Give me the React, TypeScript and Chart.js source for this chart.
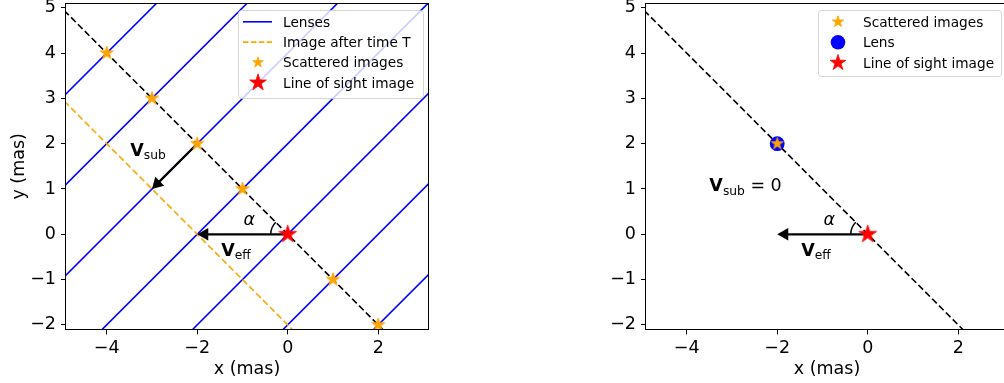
import React, { useEffect, useRef } from "react";
import { Chart, registerables } from "chart.js";
Chart.register(...registerables);

const FONT = '"DejaVu Sans", "Liberation Sans", sans-serif';

// ---- axes ----
const xLimits = [-4.9, 3.1];
const yLimits = [-2.1, 5.1];
const xTickValues = [-4, -2, 0, 2];
const yTickValues = [-2, -1, 0, 1, 2, 3, 4, 5];
const xAxisLabel = "x (mas)";
const yAxisLabel = "y (mas)";

// ---- left panel data ----
const lensIntercepts = [8, 6, 4, 2, 0, -2, -4];
const lensLineX = [-6, 4];
const sightLineX = [-6, 3];
const sightLineY = [6, -3];
const afterTLineX = [-6, 3];
const afterTLineY = [4, -5];
const scatteredX = [-4, -3, -2, -1, 1, 2];
const scatteredY = [4, 3, 2, 1, -1, -2];
const losImageX = [0];
const losImageY = [0];
const vSubArrow = [[-2, 2], [-3, 1]];
const vEffArrow = [[0, 0], [-2, 0]];

// ---- right panel data ----
const rightScatteredX = [-2];
const rightScatteredY = [2];
const lensX = [-2];
const lensY = [2];

// ---- legends / labels ----
const leftLegendLabels = ["Lenses", "Image after time T", "Scattered images", "Line of sight image"];
const rightLegendLabels = ["Scattered images", "Lens", "Line of sight image"];
const vSubLabelAt = [-3.48, 1.73];
const vEffLabelAt = [-1.47, -0.47];
const alphaLabelAt = [-0.98, 0.21];
const vSubZeroLabelAt = [-3.5, 0.95];
const angleArcRadius = 0.375;

const ORANGE = "#FFA500";
const BLUE = "#0000FF";
const RED = "#FF0000";

function starPath(ctx: CanvasRenderingContext2D, cx: number, cy: number, R: number) {
  const r = R * 0.381966;
  ctx.beginPath();
  for (let i = 0; i < 10; i++) {
    const a = -Math.PI / 2 + (i * Math.PI) / 5;
    const rr = i % 2 === 0 ? R : r;
    const px = cx + rr * Math.cos(a);
    const py = cy + rr * Math.sin(a);
    if (i === 0) ctx.moveTo(px, py);
    else ctx.lineTo(px, py);
  }
  ctx.closePath();
}

function drawStar(ctx: CanvasRenderingContext2D, cx: number, cy: number, R: number, color: string) {
  ctx.save();
  starPath(ctx, cx, cy, R);
  ctx.fillStyle = color;
  ctx.fill();
  ctx.strokeStyle = color;
  ctx.lineWidth = 0.8;
  ctx.lineJoin = "miter";
  ctx.stroke();
  ctx.restore();
}

function makeStarCanvas(R: number, color: string) {
  const size = Math.ceil(R * 2 + 4);
  const c = document.createElement("canvas");
  c.width = size;
  c.height = size;
  const ctx = c.getContext("2d")!;
  drawStar(ctx, size / 2, size / 2, R, color);
  return c;
}

function drawArrow(ctx: CanvasRenderingContext2D, x0: number, y0: number, x1: number, y1: number) {
  const dx = x1 - x0;
  const dy = y1 - y0;
  const L = Math.hypot(dx, dy);
  const ux = dx / L;
  const uy = dy / L;
  const hl = 11;
  const hw = 6.3;
  const bx = x1 - ux * hl;
  const by = y1 - uy * hl;
  ctx.save();
  ctx.strokeStyle = "#000";
  ctx.lineWidth = 2.3;
  ctx.beginPath();
  ctx.moveTo(x0, y0);
  ctx.lineTo(bx + ux, by + uy);
  ctx.stroke();
  ctx.fillStyle = "#000";
  ctx.beginPath();
  ctx.moveTo(x1, y1);
  ctx.lineTo(bx - uy * hw, by + ux * hw);
  ctx.lineTo(bx + uy * hw, by - ux * hw);
  ctx.closePath();
  ctx.fill();
  ctx.restore();
}

type Run = { t: string; f: string; dy?: number; gap?: number };

function drawRuns(ctx: CanvasRenderingContext2D, x: number, y: number, runs: Run[]) {
  ctx.save();
  ctx.fillStyle = "#000";
  ctx.textAlign = "left";
  ctx.textBaseline = "alphabetic";
  let cx = x;
  for (const r of runs) {
    cx += r.gap || 0;
    ctx.font = r.f;
    ctx.fillText(r.t, cx, y + (r.dy || 0));
    cx += ctx.measureText(r.t).width;
  }
  ctx.restore();
}

const MAIN = `17.5px ${FONT}`;
const BOLD = `bold 17.5px ${FONT}`;
const SUB = `12.25px ${FONT}`;
const ITAL = `italic 17.5px ${FONT}`;

const vSubRuns: Run[] = [{ t: "V", f: BOLD }, { t: "sub", f: SUB, dy: 3.3 }];
const vEffRuns: Run[] = [{ t: "V", f: BOLD }, { t: "eff", f: SUB, dy: 3.3 }];
const alphaRuns: Run[] = [{ t: "α", f: ITAL }];
const vSubZeroRuns: Run[] = [
  { t: "V", f: BOLD },
  { t: "sub", f: SUB, dy: 3.3 },
  { t: " = 0", f: MAIN },
];

type LegendItem = { label: string; kind: string; color: string; size: number };

type PanelCfg = {
  arrows: number[][][];
  labels: { at: number[]; runs: Run[] }[];
  legendBox: number[];
  legendItems: LegendItem[];
  legendBaseline0: number;
  legendStep: number;
};

function makePlugin(cfg: PanelCfg) {
  return {
    id: "annot",
    beforeDatasetDraw(chart: any, args: any) {
      const ds = chart.data.datasets[args.index];
      if (!ds.arrowsBefore) return;
      const ctx = chart.ctx;
      const xs = chart.scales.x;
      const ys = chart.scales.y;
      const a = chart.chartArea;
      ctx.save();
      ctx.beginPath();
      ctx.rect(a.left, a.top, a.right - a.left, a.bottom - a.top);
      ctx.clip();
      for (const [from, to] of cfg.arrows) {
        drawArrow(
          ctx,
          xs.getPixelForValue(from[0]),
          ys.getPixelForValue(from[1]),
          xs.getPixelForValue(to[0]),
          ys.getPixelForValue(to[1])
        );
      }
      const cx = xs.getPixelForValue(losImageX[0]);
      const cy = ys.getPixelForValue(losImageY[0]);
      const r = xs.getPixelForValue(angleArcRadius) - xs.getPixelForValue(0);
      ctx.strokeStyle = "#000";
      ctx.lineWidth = 1.5;
      ctx.beginPath();
      ctx.arc(cx, cy, r, Math.PI, Math.PI * 1.25);
      ctx.stroke();
      ctx.restore();
    },
    afterDraw(chart: any) {
      const ctx: CanvasRenderingContext2D = chart.ctx;
      const xs = chart.scales.x;
      const ys = chart.scales.y;
      const a = chart.chartArea;
      for (const l of cfg.labels) {
        drawRuns(ctx, xs.getPixelForValue(l.at[0]), ys.getPixelForValue(l.at[1]), l.runs);
      }
      ctx.save();
      ctx.strokeStyle = "#000";
      ctx.lineWidth = 1;
      const L = Math.floor(a.left) - 0.5;
      const T = Math.floor(a.top) + 0.5;
      const R = Math.floor(a.right) + 0.5;
      const B = Math.floor(a.bottom) + 0.5;
      ctx.strokeRect(L, T, R - L, B - T);
      ctx.restore();
      const [bx, by, bw, bh] = cfg.legendBox;
      ctx.save();
      ctx.beginPath();
      (ctx as any).roundRect(bx + 0.5, by + 0.5, bw, bh, 3);
      ctx.fillStyle = "rgba(255,255,255,0.8)";
      ctx.fill();
      ctx.strokeStyle = "rgba(204,204,204,0.8)";
      ctx.lineWidth = 1;
      ctx.stroke();
      cfg.legendItems.forEach((it, i) => {
        const base = cfg.legendBaseline0 + i * cfg.legendStep;
        const cy = base - 5;
        const hx0 = bx + 5;
        const hx1 = bx + 34;
        const mx = bx + 20;
        if (it.kind === "line" || it.kind === "dashed") {
          ctx.save();
          ctx.strokeStyle = it.color;
          ctx.lineWidth = 1.6;
          if (it.kind === "dashed") ctx.setLineDash([5.5, 2.4]);
          ctx.beginPath();
          ctx.moveTo(hx0, cy);
          ctx.lineTo(hx1, cy);
          ctx.stroke();
          ctx.restore();
        } else if (it.kind === "star") {
          drawStar(ctx, mx, cy, it.size, it.color);
        } else if (it.kind === "circle") {
          ctx.save();
          ctx.fillStyle = it.color;
          ctx.beginPath();
          ctx.arc(mx, cy, it.size, 0, Math.PI * 2);
          ctx.fill();
          ctx.restore();
        }
        ctx.fillStyle = "#000";
        ctx.font = `13.7px ${FONT}`;
        ctx.textAlign = "left";
        ctx.textBaseline = "alphabetic";
        ctx.fillText(it.label, bx + 45, base);
      });
      ctx.restore();
    },
  };
}

const fmt = (v: any) => {
  const n = Number(v);
  return n < 0 ? "\u2212" + String(Math.abs(n)) : String(n);
};

function makeScales(showYTitle: boolean) {
  const tickFont = { family: FONT, size: 17.5 };
  const grid = { drawOnChartArea: false, drawTicks: true, tickLength: 5, tickColor: "#000", lineWidth: 1 };
  return {
    x: {
      type: "linear",
      min: xLimits[0],
      max: xLimits[1],
      afterBuildTicks: (s: any) => {
        s.ticks = xTickValues.map((v) => ({ value: v }));
      },
      afterFit: (s: any) => {
        s.height = 53.6;
        s.paddingLeft = 0;
        s.paddingRight = 0;
        s.paddingTop = 0;
        s.paddingBottom = 0;
      },
      ticks: { color: "#000", font: tickFont, padding: 4, maxRotation: 0, autoSkip: false, callback: fmt },
      grid,
      border: { display: false },
      title: {
        display: true,
        text: xAxisLabel,
        color: "#000",
        font: { family: FONT, size: 17.5 },
        padding: { top: 0, bottom: 3.5 },
      },
    },
    y: {
      type: "linear",
      min: yLimits[0],
      max: yLimits[1],
      afterBuildTicks: (s: any) => {
        s.ticks = yTickValues.map((v) => ({ value: v }));
      },
      afterFit: (s: any) => {
        s.width = 66;
        s.paddingLeft = 0;
        s.paddingRight = 0;
        s.paddingTop = 0;
        s.paddingBottom = 0;
      },
      ticks: { color: "#000", font: tickFont, padding: 5, autoSkip: false, callback: fmt },
      grid,
      border: { display: false },
      title: {
        display: showYTitle,
        text: yAxisLabel,
        color: "#000",
        font: { family: FONT, size: 17.5 },
        padding: { top: 9, bottom: 0 },
      },
    },
  };
}

function baseOptions(showYTitle: boolean) {
  return {
    responsive: false,
    maintainAspectRatio: false,
    devicePixelRatio: 1,
    animation: false,
    events: [],
    layout: { autoPadding: false, padding: { left: 0, right: 12, top: 3.3, bottom: 0 } },
    plugins: { legend: { display: false }, tooltip: { enabled: false }, title: { display: false } },
    scales: makeScales(showYTitle),
  };
}

function pts(xs: number[], ys: number[]) {
  return xs.map((x, i) => ({ x, y: ys[i] }));
}

function leftConfig(): any {
  const orangeStar = makeStarCanvas(7, ORANGE);
  const redStar = makeStarCanvas(9.3, RED);
  const lineBase = { showLine: true, pointRadius: 0, borderWidth: 1.6, clip: 0, order: 3, fill: false };
  return {
    type: "scatter",
    data: {
      datasets: [
        {
          label: leftLegendLabels[3],
          data: pts(losImageX, losImageY),
          pointStyle: redStar,
          pointRadius: 9,
          clip: 0,
          order: 0,
        },
        {
          label: leftLegendLabels[2],
          data: pts(scatteredX, scatteredY),
          pointStyle: orangeStar,
          pointRadius: 7,
          clip: 0,
          order: 1,
          arrowsBefore: true,
        },
        {
          ...lineBase,
          label: "sight line",
          data: pts(sightLineX, sightLineY),
          borderColor: "#000",
          borderDash: [6.5, 3.2],
        },
        {
          ...lineBase,
          label: leftLegendLabels[1],
          data: pts(afterTLineX, afterTLineY),
          borderColor: ORANGE,
          borderDash: [6.5, 3.2],
        },
        ...lensIntercepts.map((c) => ({
          ...lineBase,
          label: leftLegendLabels[0],
          data: lensLineX.map((x) => ({ x, y: x + c })),
          borderColor: BLUE,
        })),
      ],
    },
    options: baseOptions(true),
    plugins: [
      makePlugin({
        arrows: [vSubArrow, vEffArrow],
        labels: [
          { at: vSubLabelAt, runs: vSubRuns },
          { at: vEffLabelAt, runs: vEffRuns },
          { at: alphaLabelAt, runs: alphaRuns },
        ],
        legendBox: [238, 10, 185, 88],
        legendItems: [
          { label: leftLegendLabels[0], kind: "line", color: BLUE, size: 0 },
          { label: leftLegendLabels[1], kind: "dashed", color: ORANGE, size: 0 },
          { label: leftLegendLabels[2], kind: "star", color: ORANGE, size: 5.6 },
          { label: leftLegendLabels[3], kind: "star", color: RED, size: 8.8 },
        ],
        legendBaseline0: 26.8,
        legendStep: 20.3,
      }),
    ],
  };
}

function rightConfig(): any {
  const orangeStar = makeStarCanvas(6.3, ORANGE);
  const redStar = makeStarCanvas(9.3, RED);
  return {
    type: "scatter",
    data: {
      datasets: [
        {
          label: rightLegendLabels[2],
          data: pts(losImageX, losImageY),
          pointStyle: redStar,
          pointRadius: 9,
          clip: 0,
          order: 0,
        },
        {
          label: rightLegendLabels[0],
          data: pts(rightScatteredX, rightScatteredY),
          pointStyle: orangeStar,
          pointRadius: 7,
          clip: 0,
          order: 1,
        },
        {
          label: rightLegendLabels[1],
          data: pts(lensX, lensY),
          pointStyle: "circle",
          pointRadius: 7.4,
          backgroundColor: BLUE,
          borderColor: BLUE,
          borderWidth: 0,
          clip: 0,
          order: 2,
          arrowsBefore: true,
        },
        {
          label: "sight line",
          data: pts(sightLineX, sightLineY),
          showLine: true,
          pointRadius: 0,
          borderWidth: 1.6,
          borderColor: "#000",
          borderDash: [6.5, 3.2],
          clip: 0,
          order: 3,
        },
      ],
    },
    options: baseOptions(false),
    plugins: [
      makePlugin({
        arrows: [vEffArrow],
        labels: [
          { at: vSubZeroLabelAt, runs: vSubZeroRuns },
          { at: vEffLabelAt, runs: vEffRuns },
          { at: alphaLabelAt, runs: alphaRuns },
        ],
        legendBox: [238, 10, 183, 66],
        legendItems: [
          { label: rightLegendLabels[0], kind: "star", color: ORANGE, size: 6 },
          { label: rightLegendLabels[1], kind: "circle", color: BLUE, size: 7.3 },
          { label: rightLegendLabels[2], kind: "star", color: RED, size: 8.3 },
        ],
        legendBaseline0: 26.8,
        legendStep: 20.5,
      }),
    ],
  };
}

export default function App() {
  const leftRef = useRef<HTMLCanvasElement>(null);
  const rightRef = useRef<HTMLCanvasElement>(null);
  useEffect(() => {
    const charts: Chart[] = [];
    if (leftRef.current) charts.push(new Chart(leftRef.current, leftConfig()));
    if (rightRef.current) charts.push(new Chart(rightRef.current, rightConfig()));
    return () => charts.forEach((c) => c.destroy());
  }, []);
  return (
    <div
      style={{
        position: "fixed",
        left: 0,
        top: 0,
        width: 1004,
        height: 383,
        overflow: "hidden",
        background: "#fff",
      }}
    >
      <canvas
        ref={leftRef}
        width={440}
        height={383}
        style={{ position: "absolute", left: 0, top: 0, width: 440, height: 383 }}
      />
      <canvas
        ref={rightRef}
        width={440}
        height={383}
        style={{ position: "absolute", left: 580, top: 0, width: 440, height: 383 }}
      />
    </div>
  );
}
